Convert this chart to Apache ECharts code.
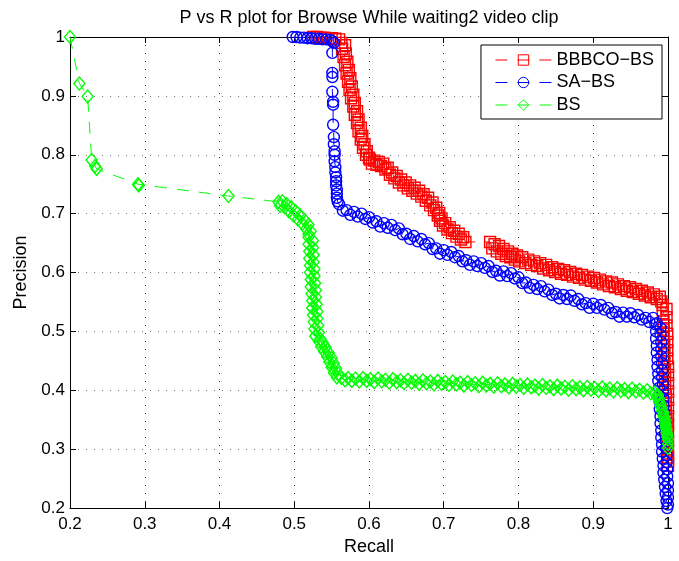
<!DOCTYPE html>
<html>
<head>
<meta charset="utf-8">
<script src="https://cdn.jsdelivr.net/npm/echarts@6/dist/echarts.min.js"></script>
<style>
html,body{margin:0;padding:0;background:#fff;}
#chart{width:679px;height:561px;}
</style>
</head>
<body>
<div id="chart"></div>
<script>
// ---------- data ----------
const chartTitle = 'P vs R plot for Browse While waiting2 video clip';
const seriesNames = ['BBBCO\u2212BS', 'SA\u2212BS', 'BS'];
const recallTicks = [0.2, 0.3, 0.4, 0.5, 0.6, 0.7, 0.8, 0.9, 1.0];
const precisionTicks = [0.2, 0.3, 0.4, 0.5, 0.6, 0.7, 0.8, 0.9, 1.0];

// BBBCO-BS (red squares)
const bbbcoRecall = [
  0.525,0.530,0.535,0.540,0.545,0.550,0.555,0.560,
  0.563,0.568,0.564,0.569,0.566,0.571,0.568,0.573,0.570,0.575,0.572,0.577,0.574,0.579,0.576,0.581,0.579,0.584,0.581,0.586,0.584,0.589,0.586,0.591,0.589,0.594,0.592,0.597,0.596,0.600,
  0.601,0.604,0.607,0.610,0.613,0.616,0.619,0.622,0.625,0.628,0.631,0.634,0.637,0.640,0.643,0.646,0.649,0.652,0.655,0.658,0.661,0.664,0.667,0.670,0.673,0.676,0.679,0.682,0.685,0.687,0.690,0.692,0.694,0.695,0.697,0.699,0.702,0.705,0.708,0.711,0.714,0.717,0.720,0.723,0.726,0.729,
  0.762,0.765,0.768,0.771,0.774,0.777,0.780,0.783,0.786,0.789,0.792,0.795,0.798,0.801,0.805,0.809,0.813,0.817,0.821,0.825,0.829,0.833,0.837,0.841,0.845,0.849,0.853,0.857,0.861,0.865,0.869,0.873,0.877,0.881,0.885,0.889,0.893,0.897,0.901,0.905,0.909,0.913,0.917,0.921,0.925,0.929,0.933,0.937,0.941,0.945,0.949,0.953,0.957,0.961,0.965,0.969,0.973,0.977,0.981,0.985,0.989,0.991,
  0.993,0.998,0.993,0.998,0.994,0.998,0.994,0.999,0.994,0.999,0.995,0.999,0.995,0.999,0.995,1.000,0.996,1.000,0.996,1.000,0.996,1.000,0.997,1.000,0.997,1.000,0.997,1.000,0.998,1.000,0.998,1.000,0.998,1.000,0.999,1.000,0.999,1.000,1.000,1.000
];
const bbbcoPrecision = [
  1.000,1.000,0.999,0.999,0.998,0.998,0.997,0.996,
  0.990,0.986,0.980,0.972,0.966,0.958,0.952,0.944,0.938,0.930,0.924,0.916,0.910,0.902,0.896,0.888,0.882,0.874,0.868,0.860,0.854,0.846,0.840,0.832,0.826,0.818,0.812,0.806,0.800,0.795,
  0.792,0.785,0.790,0.783,0.788,0.781,0.785,0.775,0.778,0.766,0.770,0.760,0.764,0.753,0.758,0.748,0.753,0.743,0.748,0.739,0.744,0.734,0.739,0.729,0.733,0.722,0.727,0.714,0.719,0.706,0.710,0.697,0.701,0.688,0.692,0.680,0.684,0.673,0.677,0.667,0.671,0.661,0.666,0.656,0.660,0.652,
  0.652,0.641,0.648,0.636,0.645,0.632,0.640,0.628,0.636,0.626,0.632,0.622,0.629,0.619,0.626,0.616,0.622,0.613,0.619,0.611,0.616,0.607,0.613,0.604,0.609,0.601,0.606,0.598,0.604,0.596,0.601,0.593,0.598,0.591,0.596,0.588,0.593,0.586,0.591,0.583,0.588,0.580,0.585,0.577,0.583,0.575,0.580,0.572,0.577,0.569,0.575,0.567,0.572,0.564,0.569,0.561,0.566,0.558,0.563,0.555,0.559,0.551,
  0.545,0.538,0.531,0.524,0.517,0.510,0.503,0.496,0.489,0.482,0.475,0.468,0.461,0.454,0.447,0.440,0.433,0.426,0.419,0.412,0.405,0.398,0.391,0.384,0.377,0.370,0.363,0.356,0.349,0.342,0.335,0.328,0.321,0.314,0.307,0.300,0.293,0.286,0.279,0.272
];

// SA-BS (blue circles)
const sabsRecall = [
  0.498,0.503,0.508,0.513,0.518,0.523,0.528,0.533,0.538,0.543,0.548,0.551,0.553,
  0.551,0.551,0.551,0.551,0.552,0.552,0.552,0.553,0.553,0.554,0.554,0.554,0.555,0.555,0.556,0.556,0.556,0.557,0.557,0.557,0.558,
  0.560,0.565,0.570,0.575,0.580,0.585,0.590,0.595,0.600,0.605,0.610,0.615,0.620,0.625,0.630,0.635,0.640,0.645,0.650,0.655,0.660,0.665,0.670,0.675,0.680,0.685,0.690,0.695,0.700,0.705,0.710,0.715,0.720,0.725,0.730,0.735,0.740,0.745,0.750,0.755,0.760,0.765,0.770,0.775,0.780,0.785,0.790,0.795,0.800,0.805,0.810,0.815,0.820,0.825,0.830,0.835,0.840,0.845,0.850,0.855,0.860,0.865,0.870,0.875,0.880,0.885,0.890,0.895,0.900,0.905,0.910,0.915,0.920,0.925,0.930,0.935,0.940,0.945,0.950,0.955,0.960,0.965,0.970,0.975,0.980,0.985,
  0.983,0.990,0.984,0.990,0.984,0.991,0.985,0.991,0.985,0.991,0.986,0.992,0.986,0.992,0.987,0.992,0.987,0.993,0.988,0.993,0.988,0.994,0.989,0.994,0.989,0.995,0.990,0.995,0.990,0.996,0.991,0.996,0.991,0.997,0.992,0.997,0.992,0.998,0.993,0.998,0.994,0.999,0.994,0.999,0.995,1.000,0.996,1.000,0.997,1.000,0.998,1.000,0.999
];
const sabsPrecision = [
  1.000,1.000,0.999,0.999,0.998,0.998,0.997,0.997,0.996,0.996,0.995,0.993,0.990,
  0.973,0.939,0.932,0.907,0.890,0.885,0.851,0.830,0.818,0.806,0.800,0.789,0.779,0.770,0.762,0.755,0.748,0.741,0.734,0.727,0.721,
  0.716,0.705,0.706,0.698,0.703,0.695,0.700,0.691,0.694,0.685,0.687,0.678,0.684,0.676,0.681,0.672,0.675,0.665,0.666,0.657,0.662,0.653,0.657,0.648,0.650,0.640,0.641,0.632,0.638,0.630,0.635,0.626,0.628,0.619,0.621,0.613,0.619,0.611,0.616,0.608,0.611,0.601,0.603,0.595,0.602,0.594,0.599,0.590,0.592,0.582,0.583,0.574,0.579,0.572,0.577,0.568,0.571,0.562,0.564,0.556,0.562,0.555,0.561,0.552,0.555,0.546,0.548,0.540,0.547,0.540,0.545,0.537,0.540,0.531,0.533,0.525,0.532,0.525,0.531,0.524,0.528,0.520,0.523,0.516,0.523,0.514,
  0.512,0.506,0.500,0.494,0.488,0.482,0.476,0.470,0.464,0.458,0.452,0.446,0.440,0.434,0.428,0.422,0.416,0.410,0.404,0.398,0.392,0.386,0.380,0.374,0.368,0.362,0.356,0.350,0.344,0.338,0.332,0.326,0.320,0.314,0.308,0.302,0.296,0.290,0.284,0.278,0.272,0.266,0.260,0.254,0.248,0.242,0.236,0.230,0.224,0.218,0.212,0.206,0.200
];

// BS (green diamonds)
const bsRecall = [
  0.200,0.2125,0.2236,0.229,0.2335,0.2357,0.291,0.292,0.412,
  0.479,0.481,0.484,0.487,0.490,0.493,0.496,0.499,0.502,0.505,0.508,0.511,0.514,0.516,0.519,0.519,0.522,
  0.519,0.525,0.519,0.525,0.520,0.526,0.520,0.526,0.521,0.527,0.521,0.527,0.522,0.528,0.522,0.529,0.523,0.529,0.524,0.530,0.524,0.531,0.525,0.531,0.526,0.532,0.527,0.533,0.528,0.535,
  0.533,0.538,0.536,0.542,0.540,0.546,0.544,0.550,0.547,0.553,0.550,0.556,0.553,0.559,0.557,0.563,0.568,
  0.572,0.577,0.582,0.587,0.592,0.597,0.602,0.607,0.612,0.617,0.622,0.627,0.632,0.637,0.642,0.647,0.652,0.657,0.662,0.667,0.672,0.677,0.682,0.687,0.692,0.697,0.702,0.707,0.712,0.717,0.722,0.727,0.732,0.737,0.742,0.747,0.752,0.757,0.762,0.767,0.772,0.777,0.782,0.787,0.792,0.797,0.802,0.807,0.812,0.817,0.822,0.827,0.832,0.837,0.842,0.847,0.852,0.857,0.862,0.867,0.872,0.877,0.882,0.887,0.892,0.897,0.902,0.907,0.912,0.917,0.922,0.927,0.932,0.937,0.942,0.947,0.952,0.957,0.962,0.967,0.972,0.977,
  0.982,0.985,0.986,0.988,0.988,0.990,0.990,0.992,0.992,0.994,0.994,0.996,0.995,0.997,0.996,0.998,0.997,0.999,0.998,1.000,0.999,1.000,1.000
];
const bsPrecision = [
  1.000,0.921,0.899,0.791,0.781,0.776,0.750,0.748,0.730,
  0.720,0.713,0.721,0.711,0.716,0.704,0.711,0.697,0.704,0.690,0.697,0.683,0.689,0.674,0.681,0.665,0.670,
  0.660,0.654,0.648,0.642,0.636,0.630,0.624,0.618,0.612,0.606,0.600,0.594,0.588,0.582,0.576,0.570,0.564,0.558,0.552,0.546,0.540,0.534,0.528,0.522,0.516,0.510,0.504,0.498,0.492,0.487,
  0.483,0.481,0.474,0.473,0.466,0.464,0.457,0.455,0.448,0.446,0.439,0.437,0.430,0.428,0.422,0.421,0.417,
  0.421,0.416,0.420,0.415,0.421,0.416,0.419,0.414,0.420,0.415,0.418,0.413,0.419,0.414,0.417,0.412,0.418,0.413,0.416,0.411,0.417,0.412,0.415,0.410,0.416,0.411,0.414,0.409,0.415,0.410,0.413,0.408,0.414,0.409,0.412,0.407,0.413,0.408,0.411,0.406,0.412,0.407,0.410,0.405,0.411,0.406,0.409,0.404,0.410,0.405,0.408,0.403,0.409,0.404,0.407,0.402,0.408,0.403,0.406,0.401,0.407,0.402,0.405,0.400,0.406,0.401,0.404,0.399,0.405,0.400,0.403,0.398,0.404,0.399,0.402,0.397,0.403,0.398,0.401,0.396,0.400,0.395,
  0.396,0.389,0.393,0.381,0.386,0.373,0.378,0.365,0.370,0.357,0.362,0.349,0.353,0.341,0.345,0.333,0.337,0.325,0.329,0.317,0.321,0.309,0.302
];

// ---------- chart ----------
const FONT = '"Liberation Sans", Arial, Helvetica, sans-serif';
function zip(a, b) { return a.map((v, i) => [v, b[i]]); }
const fmt = v => String(+(+v).toFixed(1));

const chart = echarts.init(document.getElementById('chart'), null, {renderer: 'canvas'});

function makeSeries(name, rec, prec, color, symbol, size) {
  return {
    type: 'line',
    name: name,
    data: zip(rec, prec),
    xAxisIndex: 0, yAxisIndex: 0,
    symbol: symbol,
    symbolSize: size,
    showSymbol: true,
    showAllSymbol: true,
    itemStyle: {color: 'rgba(0,0,0,0)', borderColor: color, borderWidth: 1.4},
    lineStyle: {color: color, width: 1, type: [12, 10]},
    emphasis: {disabled: true},
    silent: true,
    animation: false
  };
}

const option = {
  backgroundColor: '#fff',
  animation: false,
  title: {
    text: chartTitle,
    left: 364, top: 4, textAlign: 'center',
    textStyle: {fontSize: 18, fontWeight: 'normal', color: '#000', fontFamily: FONT}
  },
  legend: {
    orient: 'vertical',
    right: 17, top: 45,
    itemWidth: 56, itemHeight: 13, itemGap: 4.5,
    backgroundColor: '#fff', borderColor: '#000', borderWidth: 1, borderRadius: 0,
    padding: [6, 8, 5, 14],
    textStyle: {fontSize: 18, color: '#000', fontFamily: FONT, lineHeight: 18},
    itemStyle: {borderWidth: 1},
    lineStyle: {width: 1},
    selectedMode: false,
    data: seriesNames
  },
  grid: {left: 70, right: 11, top: 37, bottom: 50, show: false},
  xAxis: [{
    type: 'value', position: 'bottom',
    min: recallTicks[0], max: recallTicks[recallTicks.length - 1], interval: 0.1,
    name: 'Recall', nameLocation: 'middle', nameGap: 28,
    nameTextStyle: {fontSize: 18, color: '#000', fontFamily: FONT},
    axisLine: {show: true, onZero: false, lineStyle: {color: '#000', width: 1}},
    axisTick: {show: true, inside: true, length: 6, lineStyle: {color: '#000'}},
    axisLabel: {margin: 8, color: '#000', fontSize: 17, fontFamily: FONT, formatter: fmt},
    splitLine: {show: true, lineStyle: {color: '#222', width: 1, type: [1, 7]}}
  }, {
    type: 'value', position: 'top',
    min: recallTicks[0], max: recallTicks[recallTicks.length - 1], interval: 0.1,
    axisLine: {show: true, onZero: false, lineStyle: {color: '#000', width: 1}},
    axisTick: {show: true, inside: true, length: 6, lineStyle: {color: '#000'}},
    axisLabel: {show: false},
    splitLine: {show: false}
  }],
  yAxis: [{
    type: 'value', position: 'left',
    min: precisionTicks[0], max: precisionTicks[precisionTicks.length - 1], interval: 0.1,
    name: 'Precision', nameLocation: 'middle', nameGap: 40, nameRotate: 90,
    nameTextStyle: {fontSize: 18, color: '#000', fontFamily: FONT},
    axisLine: {show: true, onZero: false, lineStyle: {color: '#000', width: 1}},
    axisTick: {show: true, inside: true, length: 6, lineStyle: {color: '#000'}},
    axisLabel: {margin: 5, color: '#000', fontSize: 17, fontFamily: FONT, formatter: fmt},
    splitLine: {show: true, lineStyle: {color: '#777', width: 1, type: [1, 7]}}
  }, {
    type: 'value', position: 'right',
    min: precisionTicks[0], max: precisionTicks[precisionTicks.length - 1], interval: 0.1,
    axisLine: {show: true, onZero: false, lineStyle: {color: '#000', width: 1}},
    axisTick: {show: true, inside: true, length: 6, lineStyle: {color: '#000'}},
    axisLabel: {show: false},
    splitLine: {show: false}
  }],
  series: [
    makeSeries(seriesNames[0], bbbcoRecall, bbbcoPrecision, '#ff0000', 'rect', 11),
    makeSeries(seriesNames[1], sabsRecall, sabsPrecision, '#0000ff', 'circle', 11),
    makeSeries(seriesNames[2], bsRecall, bsPrecision, '#00ff00', 'diamond', [11, 13])
  ]
};
chart.setOption(option);
</script>
</body>
</html>
